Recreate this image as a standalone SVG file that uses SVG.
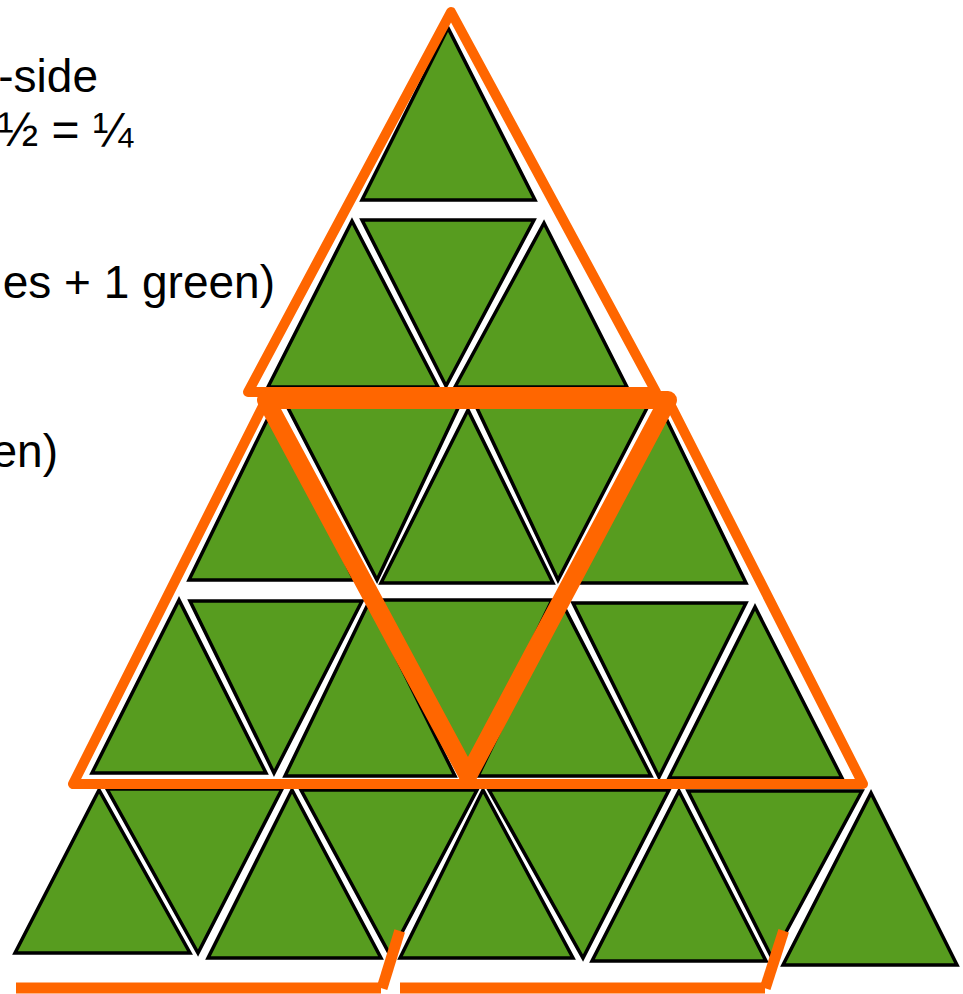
<svg xmlns="http://www.w3.org/2000/svg" width="963" height="994" viewBox="0 0 963 994">
<style>
.t{fill:#579C1F;stroke:#000;stroke-width:3.5;stroke-linejoin:miter}
.o{fill:none;stroke:#FF6600;stroke-linejoin:round;stroke-linecap:round}
.b{fill:none;stroke:#FF6600;stroke-width:11;stroke-linecap:butt}
.txt{font-family:"Liberation Sans",Arial,sans-serif;font-size:46px;fill:#000}
</style>
<rect width="963" height="994" fill="#fff"/>
<g id="labels" class="txt">
<text x="98" y="92" text-anchor="end">-side</text>
<text x="133" y="146" text-anchor="end" font-size="48">½ = ¼</text>
<text x="275" y="298" text-anchor="end">es + 1 green)</text>
<text x="58" y="467" text-anchor="end">en)</text>
</g>
<g id="triangles">
<polygon id="r1u1" class="t" points="448,28 362,200 535,200"/>
<polygon id="r2u1" class="t" points="352,221 268,387 438,387"/>
<polygon id="r2d1" class="t" points="362,220 534,220 446,386"/>
<polygon id="r2u2" class="t" points="544,223 455,387 627,387"/>
<polygon id="r3u1" class="t" points="272,410 189,580 354,580"/>
<polygon id="r3d1" class="t" points="287,406 459,406 377,580"/>
<polygon id="r3u2" class="t" points="468,410 381,583 553,583"/>
<polygon id="r3d2" class="t" points="476,406 648,406 558,580"/>
<polygon id="r3u3" class="t" points="662,410 578,583 746,583"/>
<polygon id="r4u1" class="t" points="179,600 92,773 266,773"/>
<polygon id="r4d1" class="t" points="190,601 362,601 274,773"/>
<polygon id="r4u2" class="t" points="369,602 285,776 455,776"/>
<polygon id="r4d2" class="t" points="380,600 552,600 467,777"/>
<polygon id="r4u3" class="t" points="562,603 478,776 651,776"/>
<polygon id="r4d3" class="t" points="573,603 746,603 659,777"/>
<polygon id="r4u4" class="t" points="755,607 669,778 842,778"/>
<polygon id="r5u1" class="t" points="99,790 15,953 190,953"/>
<polygon id="r5d1" class="t" points="107,789 282,789 198,953"/>
<polygon id="r5u2" class="t" points="292,790 208,958 381,958"/>
<polygon id="r5d2" class="t" points="301,790 477,790 390,955"/>
<polygon id="r5u3" class="t" points="483,790 400,958 573,958"/>
<polygon id="r5d3" class="t" points="489,790 669,790 583,958"/>
<polygon id="r5u4" class="t" points="679,791 592,961 766,961"/>
<polygon id="r5d4" class="t" points="688,791 862,791 772,958"/>
<polygon id="r5u5" class="t" points="871,793 783,965 957,965"/>
</g>
<g id="connectors">
<polygon id="top-outline" class="o" stroke-width="10" points="248,392 451,12 656,392"/>
<polyline id="trapezoid" class="o" stroke-width="10" points="266,400 73,784 863,784 668,400"/>
<polygon id="inverted" class="o" stroke-width="18" points="266,400 668,400 468,776"/>
<line class="b" x1="16" y1="988" x2="381" y2="988"/>
<line class="b" x1="382" y1="988.3" x2="399.7" y2="930.8"/>
<line class="b" x1="400" y1="988" x2="765" y2="988"/>
<line class="b" x1="765.2" y1="988.3" x2="783.7" y2="930.8"/>
</g>
</svg>
